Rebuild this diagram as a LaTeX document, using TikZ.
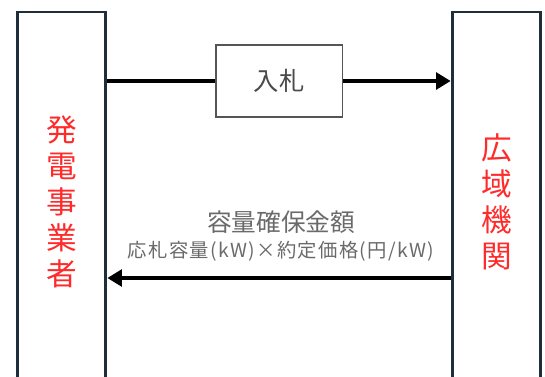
\documentclass[tikz,border=0pt]{standalone}
\usepackage{fontspec}
\newfontfamily\jp{Noto Sans CJK JP}
\newfontfamily\jpwide[LetterSpace=7]{Noto Sans CJK JP}
\usepackage{xcolor}
\usepackage{tikz}
\usetikzlibrary{arrows.meta, calc}

\definecolor{boxline}{HTML}{1F2E3A}
\definecolor{actor}{HTML}{FF2A2A}
\definecolor{labelgray}{HTML}{6A6A6A}

\tikzset{
  party/.style={draw=boxline, line width=2.2pt, minimum width=66.5pt, minimum height=285pt,
    inner sep=0pt, text=actor, font=\jp\fontsize{23pt}{27pt}\selectfont, align=center},
  bidbox/.style={draw=labelgray!80!black, line width=1.1pt, minimum width=95pt, minimum height=54pt,
    inner sep=0pt, text=labelgray!70!black, font=\jp\fontsize{19pt}{22pt}\selectfont},
  flow/.style={line width=3pt, -{Triangle[length=11pt,width=12.5pt]}}
}

\begin{document}
\begin{tikzpicture}[x=0.75pt, y=-0.75pt]
    % 1. 描画範囲 (下端ははみ出す)
    \useasboundingbox (0,0) rectangle (545,376);
    \clip (0,0) rectangle (545,376);

    % 2. 左右の主体
    \node[party] (gen) at (61.5,202) {発\\電\\事\\業\\者};
    \node[party] (occto) at (496.5,202) {広\\域\\機\\関};

    % 3. 入札の流れ
    \node[bidbox] (bid) at (279.2,81) {入札};
    \draw[line width=3pt] (gen.east |- bid.west) -- (bid.west);
    \draw[flow] (bid.east) -- (occto.west |- bid.east);

    % 4. 支払いの流れ
    \node[text=labelgray, align=center, inner sep=0pt] (pay) at (281,236)
        {\jp\fontsize{18.5pt}{20pt}\selectfont 容量確保金額\\[5pt]
         \jpwide\fontsize{14.5pt}{16pt}\selectfont 応札容量(kW)×約定価格(円/kW)};
    \coordinate (payline) at (281,278);
    \draw[flow] (occto.west |- payline) -- (gen.east |- payline);
\end{tikzpicture}
\end{document}
